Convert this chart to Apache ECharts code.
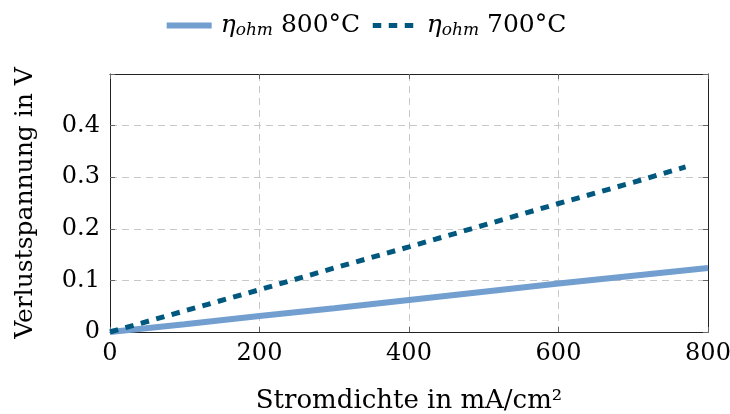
<!DOCTYPE html>
<html><head><meta charset="utf-8">
<script src="https://cdn.jsdelivr.net/npm/echarts@6/dist/echarts.min.js"></script>
<style>html,body{margin:0;padding:0;background:#fff}#c{width:730px;height:414px}</style>
</head><body><div id="c"></div>
<script>
const xTicks = [0, 200, 400, 600, 800];
const yTicks = [0, 0.1, 0.2, 0.3, 0.4];
const x800 = [0, 100, 200, 300, 400, 500, 600, 700, 800];
const y800 = [0, 0.015, 0.031, 0.046, 0.062, 0.078, 0.094, 0.109, 0.124];
const x700 = [0, 100, 200, 300, 400, 500, 600, 700, 770];
const y700 = [0, 0.041, 0.082, 0.124, 0.165, 0.207, 0.249, 0.290, 0.320];
const names = ['800', '700'];

const F = 'DejaVu Serif';
const C800 = '#729fcf', C700 = '#00587f';
const chart = echarts.init(document.getElementById('c'));
const gridLine = {show: true, lineStyle: {color: '#c8c8c8', type: [7, 5], width: 1}};
const tick = {show: true, inside: true, length: 5, lineStyle: {color: '#666', width: 1}};
const frame = {show: true, onZero: false, lineStyle: {color: '#222', width: 1}};
chart.setOption({
  animation: false,
  textStyle: {fontFamily: F},
  legend: {
    top: 8, left: 'center', itemWidth: 45, itemHeight: 12, itemGap: 10,
    data: [
      {name: names[0], lineStyle: {width: 6, color: C800}},
      {name: names[1], lineStyle: {width: 5, color: C700, type: [8.5, 7.5]}}
    ],
    itemStyle: {opacity: 0},
    formatter: n => '{i|η}{s|ohm}{t| ' + n + '°C}',
    textStyle: {
      fontFamily: F, color: '#000',
      rich: {
        i: {fontFamily: F, fontStyle: 'italic', fontSize: 25, lineHeight: 28, verticalAlign: 'middle', color: '#000', padding: [0, 0, 0, 4]},
        s: {fontFamily: F, fontStyle: 'italic', fontSize: 17, lineHeight: 17, verticalAlign: 'bottom', color: '#000'},
        t: {fontFamily: F, fontSize: 25, lineHeight: 28, verticalAlign: 'middle', color: '#000'}
      }
    }
  },
  grid: {left: 110, right: 22, top: 74, bottom: 82, outerBoundsMode: 'none', containLabel: false},
  xAxis: [{
    type: 'value', min: 0, max: 800, interval: 200,
    name: 'Stromdichte in mA/cm²', nameLocation: 'middle', nameGap: 56,
    nameTextStyle: {fontFamily: F, fontSize: 26, color: '#000'},
    axisLine: frame,
    axisTick: tick,
    axisLabel: {fontFamily: F, fontSize: 24, color: '#000', margin: 10, formatter: v => xTicks.includes(v) ? String(v) : ''},
    splitLine: gridLine
  }, {
    type: 'value', min: 0, max: 800, interval: 200, position: 'top',
    axisLine: frame,
    axisTick: tick, axisLabel: {show: false}, splitLine: {show: false}
  }],
  yAxis: [{
    type: 'value', min: 0, max: 0.5, interval: 0.1,
    name: 'Verlustspannung in V', nameLocation: 'middle', nameGap: 72, nameRotate: 90,
    nameTextStyle: {fontFamily: F, fontSize: 25, color: '#000'},
    axisLine: frame,
    axisTick: tick,
    axisLabel: {fontFamily: F, fontSize: 24, color: '#000', margin: 10,
      formatter: v => { const r = yTicks.find(t => Math.abs(t - v) < 1e-9); return r === undefined ? '' : (r === 0 ? '0' : r.toFixed(1)); }},
    splitLine: gridLine
  }, {
    type: 'value', min: 0, max: 0.5, interval: 0.1, position: 'right',
    axisLine: frame,
    axisTick: tick, axisLabel: {show: false}, splitLine: {show: false}
  }],
  series: [{
    name: names[0], type: 'line', showSymbol: false, symbol: 'none',
    data: x800.map((x, i) => [x, y800[i]]),
    lineStyle: {color: C800, width: 6},
    itemStyle: {color: C800}, z: 3
  }, {
    name: names[1], type: 'line', showSymbol: false, symbol: 'none',
    data: x700.map((x, i) => [x, y700[i]]),
    lineStyle: {color: C700, width: 5, type: [8.5, 7.5]},
    itemStyle: {color: C700}, z: 4
  }]
});
</script></body></html>
